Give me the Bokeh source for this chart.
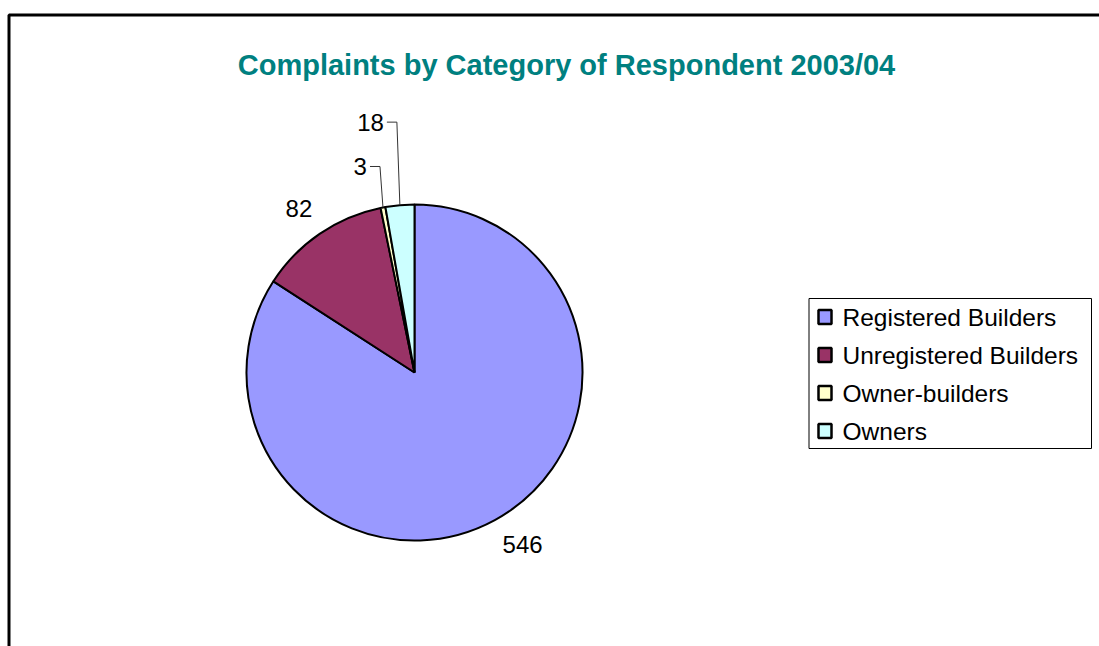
import math
from bokeh.plotting import figure
from bokeh.models import Range1d, BoxAnnotation, ColumnDataSource
from bokeh.core.properties import value
from bokeh.embed import file_html
from bokeh.resources import INLINE

# ---- data ----
categories = ["Registered Builders", "Unregistered Builders", "Owner-builders", "Owners"]
counts = [546, 82, 3, 18]
colors = ["#9999FF", "#993366", "#FFFFCC", "#CCFFFF"]
title_text = "Complaints by Category of Respondent 2003/04"

# ---- layout ----
W, H = 1099, 646
cx, cy, R = 414, H - 372, 168
label_r = [203, 201, 0, 0]
label_nudge_deg = [3.6, 0.7, 0, 0]
leader_rise = [0, 0, 41, 83]
FONT = "Liberation Sans"

total = sum(counts)
starts, ends, mids = [], [], []
acc = 0
for c in counts:
    a0 = math.pi / 2 - 2 * math.pi * acc / total
    acc += c
    a1 = math.pi / 2 - 2 * math.pi * acc / total
    starts.append(a0)
    ends.append(a1)
    mids.append((a0 + a1) / 2)

p = figure(width=W, height=H, output_backend="svg", toolbar_location=None,
           x_range=Range1d(0, W), y_range=Range1d(0, H), min_border=0)
p.axis.visible = False
p.grid.visible = False
p.outline_line_color = None
p.background_fill_color = "white"

# chart frame (top + left edges)
p.add_layout(BoxAnnotation(left=8.5, right=W + 50, top=H - 14.5, bottom=-50,
                           fill_color=None, fill_alpha=0, line_color="black",
                           line_alpha=1, line_width=3))

src = ColumnDataSource(dict(start=starts, end=ends, color=colors, cat=categories))
p.wedge(x=cx, y=cy, radius=R, start_angle="start", end_angle="end",
        direction="clock", fill_color="color", line_color="black",
        line_width=2, source=src)

# data labels
lx, ly, lt, la = [], [], [], []
for i, (c, m) in enumerate(zip(counts, mids)):
    ex = cx + R * math.cos(m)
    ey = cy + R * math.sin(m)
    if leader_rise[i] == 0:
        a = m + math.radians(label_nudge_deg[i])
        lx.append(cx + label_r[i] * math.cos(a))
        ly.append(cy + label_r[i] * math.sin(a))
        la.append("center")
    else:
        yy = ey + leader_rise[i]
        p.line([ex - 13, ex - 3, ex], [yy, yy, ey], line_color="#333333", line_width=1)
        lx.append(ex - 16)
        ly.append(yy)
        la.append("right")
    lt.append(str(c))
p.text(x=lx, y=ly, text=lt, text_align=la, text_baseline="middle",
       text_font=value(FONT), text_font_size="24px", text_color="black")

# title
p.text(x=[566], y=[H - 64.5], text=[title_text], text_align="center",
       text_baseline="middle", text_font=value(FONT), text_font_style="bold",
       text_font_size="29px", text_color="#008080")

# legend (drawn manually)
lg_left, lg_right, lg_top, lg_bottom = 808.5, 1091, H - 298, H - 448
p.quad(left=[lg_left], right=[lg_right], top=[lg_top], bottom=[lg_bottom],
       fill_color="white", line_color="black", line_width=1)
row_y = [H - (316.5 + 38 * i) for i in range(len(categories))]
p.rect(x=[824.5] * len(categories), y=row_y, width=13, height=14,
       fill_color=colors, line_color="black", line_width=2.5)
p.text(x=[842] * len(categories), y=row_y, text=categories, text_align="left",
       text_baseline="middle", text_font=value(FONT), text_font_size="24.5px",
       text_color="black")

open("out.html", "w").write(file_html(p, INLINE))
